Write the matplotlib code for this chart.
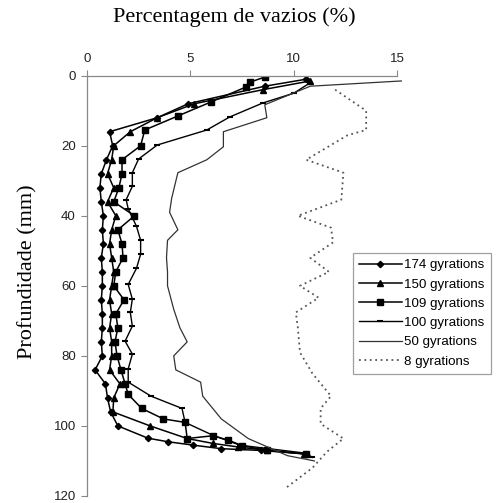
import matplotlib
matplotlib.use('Agg')
import matplotlib.pyplot as plt

plt.rcParams['font.family'] = 'Liberation Sans'

# void content (%) against depth (mm), one pair of lists per compaction level
depth_174 = [1, 3, 8, 12, 16, 20, 24, 28, 32, 36, 40, 44, 48, 52, 56, 60, 64, 68, 72, 76,
             80, 84, 88, 92, 96, 100, 103.5, 104.5, 105.5, 106.5, 107, 108]
voids_174 = [10.6, 8.6, 4.9, 3.4, 1.1, 1.25, 0.95, 0.7, 0.63, 0.7, 0.8, 0.75, 0.8, 0.7, 0.75, 0.75,
             0.7, 0.75, 0.75, 0.7, 0.75, 0.4, 0.9, 1.0, 1.15, 1.5, 2.95, 3.9, 5.15, 6.5, 8.4, 10.6]

depth_150 = [1.5, 4, 8, 12, 16, 20, 24, 28, 32, 36, 40, 44, 48, 52, 56, 60, 64, 68, 72, 76,
             80, 84, 88, 92, 96, 100, 103.6, 105, 106, 107, 108]
voids_150 = [10.8, 8.5, 5.2, 3.4, 2.1, 1.3, 1.2, 1.0, 1.3, 1.0, 1.4, 1.2, 1.1, 1.2, 1.3, 1.2,
             1.1, 1.2, 1.1, 1.2, 1.2, 1.1, 1.6, 1.3, 1.26, 3.06, 4.85, 6.1, 7.3, 8.7, 10.5]

depth_109 = [0.4, 1.8, 3.2, 7.5, 11.5, 15.5, 20, 24, 28, 32, 36, 40, 44, 48, 52, 56, 60, 64,
             68, 72, 76, 80, 84, 88, 91, 95, 98, 99, 103.6, 102.8, 104, 105.6, 107, 108]
voids_109 = [8.6, 7.9, 7.7, 6.0, 4.4, 2.8, 2.6, 1.7, 1.7, 1.55, 1.3, 2.3, 1.5, 1.7, 1.75, 1.4,
             1.3, 1.8, 1.4, 1.5, 1.36, 1.46, 1.65, 1.85, 2.0, 2.65, 3.7, 4.75, 4.85, 6.1, 6.8,
             7.5, 8.7, 10.6]

depth_100 = [2, 5, 7.8, 11.8, 15.5, 19.8, 23.8, 27.7, 31.6, 35.4, 38, 43, 47, 51, 55, 59.6,
             63.8, 67.6, 71.5, 75.8, 79.5, 83.7, 87.5, 91.5, 95, 99, 102.7, 105.5, 107.8, 109]
voids_100 = [10.8, 10.0, 8.5, 6.9, 5.8, 3.4, 2.5, 2.2, 2.2, 1.9, 2.0, 2.4, 2.6, 2.6, 2.4, 2.0,
             2.2, 2.1, 2.2, 1.85, 2.2, 2.0, 2.0, 3.1, 4.6, 4.75, 6.1, 7.4, 10.6, 10.9]

depth_50 = [1.5, 3, 8.3, 12, 16, 20.3, 24, 27.7, 35, 39, 44, 47, 52, 56, 60, 66.7, 72, 76,
            80, 84, 87.5, 91.5, 98, 103.6, 108.5, 110]
voids_50 = [15.2, 10.8, 8.6, 8.7, 6.6, 6.6, 5.8, 4.4, 4.1, 4.0, 4.4, 3.9, 3.85, 3.9, 3.9, 4.2,
            4.5, 4.85, 4.2, 4.3, 5.5, 5.6, 6.5, 7.8, 9.7, 11.0]

depth_8 = [4, 10, 15.5, 17, 24, 27.7, 35.4, 40, 43.4, 47.6, 52, 56, 60, 63.4, 67.6, 72, 79,
           85, 91.5, 95, 99.4, 103.6, 107.4, 112, 117.8]
voids_8 = [12.0, 13.5, 13.5, 12.6, 10.6, 12.4, 12.3, 10.2, 11.8, 11.9, 10.8, 11.7, 10.3, 11.2,
           10.1, 10.2, 10.3, 10.9, 11.8, 11.3, 11.3, 12.4, 11.6, 10.9, 9.6]

fig = plt.figure(figsize=(4.99, 5.03), dpi=100)
ax = fig.add_axes([0.174, 0.014, 0.622, 0.8355])

ax.plot(voids_174, depth_174, color='black', lw=1.1, marker='D', ms=3.2, label='174 gyrations')
ax.plot(voids_150, depth_150, color='black', lw=1.1, marker='^', ms=4.2, label='150 gyrations')
ax.plot(voids_109, depth_109, color='black', lw=1.1, marker='s', ms=3.8, label='109 gyrations')
ax.plot(voids_100, depth_100, color='black', lw=1.0, marker='_', ms=5, mew=1.5, label='100 gyrations')
ax.plot(voids_50, depth_50, color='#333333', lw=0.9, label='50 gyrations', clip_on=False)
ax.plot(voids_8, depth_8, color='#555555', lw=1.3, ls=(0, (1, 2)), label='8 gyrations', clip_on=False)

ax.set_xlim(0, 15)
ax.set_ylim(120, 0)
ax.set_xticks([0, 5, 10, 15])
ax.set_yticks(range(0, 121, 20))
ax.xaxis.tick_top()
for side in ['right', 'bottom']:
    ax.spines[side].set_visible(False)
for side in ['left', 'top']:
    ax.spines[side].set_color('#888888')
    ax.spines[side].set_linewidth(0.9)
ax.tick_params(axis='both', labelsize=9.5, length=4, color='#888888', labelcolor='#222222')
ax.tick_params(axis='x', pad=4)
ax.tick_params(axis='y', pad=4)

fig.text(0.47, 0.966, 'Percentagem de vazios (%)', family='Liberation Serif', fontsize=16,
         ha='center', va='center')
fig.text(0.056, 0.46, 'Profundidade (mm)', family='Liberation Serif', fontsize=16,
         rotation=90, ha='center', va='center')

leg = fig.legend(loc='upper left', bbox_to_anchor=(0.7074, 0.497), borderaxespad=0,
                 fontsize=9.6, handlelength=3.2, handletextpad=0.2, labelspacing=0.52,
                 fancybox=False, borderpad=0.45)
leg.get_frame().set_edgecolor('#888888')
leg.get_frame().set_linewidth(0.9)

fig.savefig('out.png', dpi=100)
